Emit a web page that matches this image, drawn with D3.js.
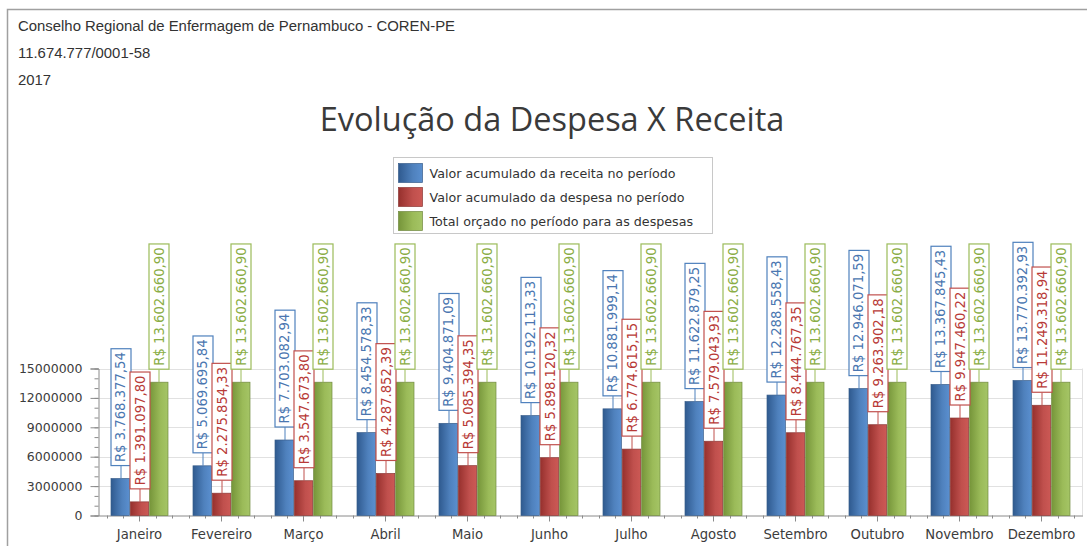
<!DOCTYPE html>
<html>
<head>
<meta charset="utf-8">
<script src="https://cdn.jsdelivr.net/npm/d3@7"></script>
<style>
	body { margin: 0; background: #fff; }
	svg { display: block; }
</style>
</head>
<body>
<div id="chart"></div>
<script>

var months = ["Janeiro", "Fevereiro", "Março", "Abril", "Maio", "Junho", "Julho", "Agosto", "Setembro", "Outubro", "Novembro", "Dezembro"];
var seriesNames = ["Valor acumulado da receita no período", "Valor acumulado da despesa no período", "Total orçado no período para as despesas"];
var receita = [3768377.54, 5069695.84, 7703082.94, 8454578.33, 9404871.09, 10192113.33, 10881999.14, 11622879.25, 12288558.43, 12946071.59, 13367845.43, 13770392.93];
var despesa = [1391097.80, 2275854.33, 3547673.80, 4287852.39, 5085394.35, 5898120.32, 6774615.15, 7579043.93, 8444767.35, 9263902.18, 9947460.22, 11249318.94];
var orcado = [13602660.90, 13602660.90, 13602660.90, 13602660.90, 13602660.90, 13602660.90, 13602660.90, 13602660.90, 13602660.90, 13602660.90, 13602660.90, 13602660.90];
var yTicks = [0, 3000000, 6000000, 9000000, 12000000, 15000000];
var headerLines = ["Conselho Regional de Enfermagem de Pernambuco - COREN-PE", "11.674.777/0001-58", "2017"];
var title = "Evolução da Despesa X Receita";

///////////////////////////////////////////////////////////////////////////
//////////////////// Set up and initiate svg container ////////////////////
///////////////////////////////////////////////////////////////////////////

var width = 1087,
	height = 546;

var svg = d3.select("#chart")
	.append("svg")
	.attr("width", width)
	.attr("height", height)
	.style("font-family", "'DejaVu Sans', sans-serif");

//Outer frame of the report
svg.append("path")
	.attr("d", "M7.5," + height + "V9.5H" + width)
	.style("fill", "none")
	.style("stroke", "#a0a0a0")
	.style("stroke-width", "1.5px");

//Header lines
svg.selectAll(".header")
	.data(headerLines)
	.enter().append("text")
	.attr("class", "header")
	.attr("x", 18)
	.attr("y", function(d,i) { return 31 + i*27; })
	.style("font-family", "'Liberation Sans', Arial, sans-serif")
	.style("font-size", "14.9px")
	.style("fill", "#333")
	.text(function(d) { return d; });

//Title
svg.append("text")
	.attr("x", 552)
	.attr("y", 131)
	.attr("text-anchor", "middle")
	.style("font-family", "'Open Sans', sans-serif")
	.style("font-size", "32.5px")
	.style("fill", "#3a3a3a")
	.text(title);

///////////////////////////////////////////////////////////////////////////
/////////////////////////////// Scales ////////////////////////////////////
///////////////////////////////////////////////////////////////////////////

var plot = { left: 98.5, right: 1082.5, top: 368.5, bottom: 515.5 };

var x = d3.scaleBand()
	.domain(months)
	.range([plot.left, plot.right])
	.padding(0);

var x1 = d3.scaleBand()
	.domain([0, 1, 2])
	.range([-28.5, 28.5])
	.paddingInner(0.05);

var y = d3.scaleLinear()
	.domain([0, 15000000])
	.range([plot.bottom, plot.top]);

var colors = [
	{ main: "#4f81bd", dark: "#2f5a8f", light: "#5a8fcf", stroke: "#385d8a", text: "#4a76b0" },
	{ main: "#c0504d", dark: "#96302d", light: "#cc5955", stroke: "#8c3836", text: "#b83a37" },
	{ main: "#9bbb59", dark: "#76953a", light: "#a5c566", stroke: "#71893f", text: "#8aad45" }
];

var series = [receita, despesa, orcado];

//Brazilian currency formatting
var br = d3.formatLocale({ decimal: ",", thousands: ".", grouping: [3], currency: ["R$ ", ""] });
var money = br.format("$,.2f");

//Gradients for the bars and legend swatches
var defs = svg.append("defs");
colors.forEach(function(c, i) {
	var g = defs.append("linearGradient")
		.attr("id", "grad" + i)
		.attr("x1", "0%").attr("x2", "100%")
		.attr("y1", "0%").attr("y2", "0%");
	g.append("stop").attr("offset", "0%").attr("stop-color", c.dark);
	g.append("stop").attr("offset", "60%").attr("stop-color", c.main);
	g.append("stop").attr("offset", "100%").attr("stop-color", c.light);
});

///////////////////////////////////////////////////////////////////////////
//////////////////////////////// Axes /////////////////////////////////////
///////////////////////////////////////////////////////////////////////////

//Gridlines
svg.selectAll(".grid")
	.data(yTicks.slice(1))
	.enter().append("line")
	.attr("class", "grid")
	.attr("x1", plot.left)
	.attr("x2", plot.right)
	.attr("y1", function(d) { return Math.round(y(d)) + 0.5; })
	.attr("y2", function(d) { return Math.round(y(d)) + 0.5; })
	.style("stroke", "#e1e1e1");

//Right border of the plot area
svg.append("line")
	.attr("x1", plot.right).attr("x2", plot.right)
	.attr("y1", plot.top).attr("y2", plot.bottom)
	.style("stroke", "#e1e1e1");

//Y axis with minor ticks
var minorY = d3.range(0, 15000001, 1000000);
svg.append("g")
	.attr("transform", "translate(" + plot.left + ",0)")
	.call(d3.axisLeft(y).tickValues(minorY).tickSize(4).tickFormat(""))
	.call(function(g) { g.select(".domain").remove(); })
	.selectAll("line").style("stroke", "#8a8a8a");

var yAxis = svg.append("g")
	.attr("transform", "translate(" + plot.left + ",0)")
	.call(d3.axisLeft(y).tickValues(yTicks).tickSize(8).tickPadding(8).tickFormat(d3.format("d")));
yAxis.select(".domain").style("stroke", "#8a8a8a");
yAxis.selectAll("line").style("stroke", "#8a8a8a");
yAxis.selectAll("text")
	.style("font-family", "'DejaVu Sans', sans-serif")
	.style("font-size", "12.5px")
	.style("fill", "#3c3c3c");

//X axis with minor ticks
var minorX = [];
months.forEach(function(m) {
	for (var k = -2; k <= 2; k++) {
		if (k !== 0) minorX.push(x(m) + x.bandwidth()/2 + k*x.bandwidth()/5);
	}
});
svg.selectAll(".minorX")
	.data(minorX)
	.enter().append("line")
	.attr("class", "minorX")
	.attr("x1", function(d) { return Math.round(d) + 0.5; })
	.attr("x2", function(d) { return Math.round(d) + 0.5; })
	.attr("y1", plot.bottom)
	.attr("y2", plot.bottom + 3)
	.style("stroke", "#8a8a8a");

var xAxis = svg.append("g")
	.attr("transform", "translate(0," + plot.bottom + ")")
	.call(d3.axisBottom(x).tickSize(6).tickPadding(8).tickSizeOuter(0));
xAxis.select(".domain").style("stroke", "#8a8a8a");
xAxis.selectAll("line").style("stroke", "#8a8a8a");
xAxis.selectAll("text")
	.style("font-family", "'DejaVu Sans', sans-serif")
	.style("font-size", "13.2px")
	.style("fill", "#3c3c3c");

///////////////////////////////////////////////////////////////////////////
/////////////////////////////// Bars //////////////////////////////////////
///////////////////////////////////////////////////////////////////////////

var groups = svg.selectAll(".month")
	.data(months)
	.enter().append("g")
	.attr("class", "month")
	.attr("transform", function(d) { return "translate(" + (x(d) + x.bandwidth()/2) + ",0)"; });

series.forEach(function(values, s) {
	groups.append("rect")
		.attr("x", x1(s))
		.attr("width", x1.bandwidth())
		.attr("y", function(d,i) { return y(values[i]); })
		.attr("height", function(d,i) { return plot.bottom - y(values[i]); })
		.style("fill", "url(#grad" + s + ")")
		.style("stroke", colors[s].stroke)
		.style("stroke-width", "0.7px");
});

//Value labels: rotated text in a framed box, tied to the bar by a short line
var boxW = 20,
	pad = 3.5,
	gap = 13;

series.forEach(function(values, s) {
	groups.each(function(d, i) {
		var g = d3.select(this),
			cx = x1(s) + x1.bandwidth()/2,
			top = y(values[i]);

		var lbl = g.append("g");
		var t = lbl.append("text")
			.attr("transform", "rotate(-90)")
			.style("font-size", "13.2px")
			.style("fill", colors[s].text)
			.text(money(values[i]));
		var len = t.node().getComputedTextLength();
		var boxBottom = top - gap,
			boxH = len + 2*pad;

		t.attr("x", -(boxBottom - pad))
			.attr("y", cx + 5);

		lbl.insert("rect", "text")
			.attr("x", Math.round(cx - boxW/2) + 0.5)
			.attr("y", boxBottom - boxH)
			.attr("width", boxW)
			.attr("height", boxH)
			.style("fill", "#fff")
			.style("stroke", colors[s].main)
			.style("stroke-width", "1.2px");

		lbl.insert("line", "rect")
			.attr("x1", Math.round(cx) + 0.5)
			.attr("x2", Math.round(cx) + 0.5)
			.attr("y1", top)
			.attr("y2", boxBottom)
			.style("stroke", colors[s].main);
	});
});

///////////////////////////////////////////////////////////////////////////
////////////////////////////// Legend /////////////////////////////////////
///////////////////////////////////////////////////////////////////////////

var legend = svg.append("g")
	.attr("transform", "translate(393.5,157.5)");

legend.append("rect")
	.attr("width", 319)
	.attr("height", 76)
	.style("fill", "#fff")
	.style("stroke", "#c8c8c8");

var item = legend.selectAll(".item")
	.data(seriesNames)
	.enter().append("g")
	.attr("class", "item")
	.attr("transform", function(d,i) { return "translate(5," + (6 + i*24) + ")"; });

item.append("rect")
	.attr("width", 24)
	.attr("height", 19)
	.style("fill", function(d,i) { return "url(#grad" + i + ")"; })
	.style("stroke", function(d,i) { return colors[i].stroke; })
	.style("stroke-width", "0.7px");

item.append("text")
	.attr("x", 31)
	.attr("y", 14)
	.style("font-size", "12.7px")
	.style("fill", "#333")
	.text(function(d) { return d; });

</script>
</body>
</html>
